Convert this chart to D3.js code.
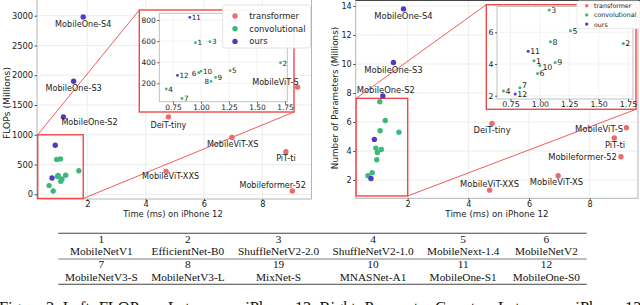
<!DOCTYPE html>
<html>
<head>
<meta charset="utf-8">
<script src="https://cdn.jsdelivr.net/npm/d3@7"></script>
<style>
  body { margin: 0; background: #fff; }
  svg { display: block; }
</style>
</head>
<body>
<svg id="fig" width="640" height="305"></svg>
<script>
// ---- data -----------------------------------------------------------
// small models, numbered in the insets and listed in the table
const smallIds     = ['1', '2', '3', '4', '5', '6', '7', '8', '9', '10', '11', '12'];
const smallType    = ['convolutional', 'convolutional', 'convolutional', 'convolutional',
                      'convolutional', 'convolutional', 'convolutional', 'convolutional',
                      'convolutional', 'convolutional', 'ours', 'ours'];
const smallLatency = [0.95, 1.71, 1.08, 0.69, 1.26, 0.98, 0.83, 1.09, 1.13, 1.00, 0.90, 0.79];
const smallFlops   = [585, 395, 595, 146, 320, 300, 56, 219, 256, 315, 825, 275];
const smallParams  = [4.2, 5.3, 7.4, 2.3, 6.1, 3.4, 2.5, 5.4, 4.1, 3.9, 4.8, 2.1];

// larger models, labelled by name
const bigNames   = ['MobileOne-S2', 'MobileOne-S3', 'MobileOne-S4', 'DeiT-tiny', 'MobileViT-XXS',
                    'MobileViT-XS', 'MobileViT-S', 'PiT-ti', 'Mobileformer-52'];
const bigType    = ['ours', 'ours', 'ours', 'transformer', 'transformer',
                    'transformer', 'transformer', 'transformer', 'transformer'];
const bigLatency = [1.18, 1.53, 1.86, 4.78, 4.70, 6.96, 9.21, 8.81, 9.03];
const bigFlops   = [1300, 1900, 2980, 1300, 385, 955, 1800, 715, 55];
const bigParams  = [7.8, 10.1, 13.8, 5.9, 1.3, 2.3, 5.6, 4.9, 3.6];

const legendLabels = ['transformer', 'convolutional', 'ours'];

// ticks
const mainXTicks  = [2, 4, 6, 8];
const flopsYTicks = [0, 500, 1000, 1500, 2000, 2500, 3000];
const paramYTicks = [2, 4, 6, 8, 10, 12, 14];
const insetXTicks = [0.75, 1.00, 1.25, 1.50, 1.75];
const flopsInsetYTicks = [200, 400, 600, 800];
const paramInsetYTicks = [2, 4, 6];

// table
const tableRow1Ids   = ['1', '2', '3', '4', '5', '6'];
const tableRow1Names = ['MobileNetV1', 'EfficientNet-B0', 'ShuffleNetV2-2.0', 'ShuffleNetV2-1.0', 'MobileNext-1.4', 'MobileNetV2'];
const tableRow2Ids   = ['7', '8', '19', '10', '11', '12'];
const tableRow2Names = ['MobileNetV3-S', 'MobileNetV3-L', 'MixNet-S', 'MNASNet-A1', 'MobileOne-S1', 'MobileOne-S0'];

const caption = 'Figure 2: Left: FLOPs vs Latency on iPhone 12. Right: Parameter Count vs Latency on iPhone 12';

// ---- style ----------------------------------------------------------
const colors = d3.scaleOrdinal()
  .domain(legendLabels)
  .range(['#f06a6a', '#3cb97a', '#4e3bc2']);
const SANS = 'DejaVu Sans, sans-serif';
const SERIF = 'Liberation Serif, Times New Roman, serif';
const RED = '#f04848';

const svg = d3.select('#fig');

// ================================
// One scatter panel with its inset
// ================================
function drawPanel(cfg) {
  const g = svg.append('g');
  const { x, y, box } = cfg;

  // grid
  g.selectAll('.gx').data(cfg.xTicks).enter().append('line')
    .attr('x1', d => x(d)).attr('x2', d => x(d))
    .attr('y1', box.y0).attr('y2', box.y1)
    .attr('stroke', '#e8e8e8').attr('stroke-width', 0.8);
  g.selectAll('.gy').data(cfg.yTicks).enter().append('line')
    .attr('x1', box.x0).attr('x2', box.x1)
    .attr('y1', d => y(d)).attr('y2', d => y(d))
    .attr('stroke', '#e8e8e8').attr('stroke-width', 0.8);

  // spines
  g.append('rect')
    .attr('x', box.x0).attr('y', box.y0)
    .attr('width', box.x1 - box.x0).attr('height', box.y1 - box.y0)
    .attr('fill', 'none').attr('stroke', '#b5b5b5').attr('stroke-width', 1);
  if (cfg.topLine) {
    g.append('line')
      .attr('x1', box.x0).attr('x2', 640).attr('y1', 0.5).attr('y2', 0.5)
      .attr('stroke', '#444').attr('stroke-width', 1.2);
  }

  // axes
  const xAxis = g.append('g')
    .attr('transform', `translate(0,${box.y1})`)
    .call(d3.axisBottom(x).tickValues(cfg.xTicks).tickFormat(d3.format('d')).tickSize(2).tickPadding(0.5));
  const yAxis = g.append('g')
    .attr('transform', `translate(${box.x0},0)`)
    .call(d3.axisLeft(y).tickValues(cfg.yTicks).tickFormat(d3.format('d')).tickSize(2.5).tickPadding(1.5));
  [xAxis, yAxis].forEach(a => {
    a.select('.domain').remove();
    a.selectAll('line').attr('stroke', '#555');
    a.selectAll('text').attr('fill', '#222').attr('font-family', SANS).attr('font-size', cfg.tickFont);
  });

  // axis titles
  g.append('text')
    .attr('x', cfg.xTitle.x).attr('y', cfg.xTitle.y)
    .attr('text-anchor', 'middle').attr('font-family', SANS)
    .attr('font-size', cfg.xTitle.size).attr('fill', '#222')
    .text('Time (ms) on iPhone 12');
  g.append('text')
    .attr('transform', `translate(${cfg.yTitle.x},${cfg.yTitle.y}) rotate(-90)`)
    .attr('text-anchor', 'middle').attr('dominant-baseline', 'central')
    .attr('font-family', SANS).attr('font-size', cfg.yTitle.size).attr('fill', '#222')
    .text(cfg.yTitle.text);

  // zoom rectangle and connectors to the inset frame
  const z = cfg.zoom;
  const zx0 = x(z.x0), zx1 = x(z.x1), zy0 = y(z.y1), zy1 = y(z.y0);
  g.append('rect')
    .attr('x', zx0).attr('y', zy0).attr('width', zx1 - zx0).attr('height', zy1 - zy0)
    .attr('fill', 'none').attr('stroke', RED).attr('stroke-width', 1.4);
  const fr = cfg.inset.frame;
  g.append('line')
    .attr('x1', zx0).attr('y1', zy0).attr('x2', fr.x0).attr('y2', fr.y0)
    .attr('stroke', RED).attr('stroke-width', 0.9);
  g.append('line')
    .attr('x1', zx1).attr('y1', zy1).attr('x2', fr.x1).attr('y2', fr.y1)
    .attr('stroke', RED).attr('stroke-width', 0.9);

  // small models in the main axes
  g.selectAll('.sp').data(smallIds).enter().append('circle')
    .attr('cx', (d, i) => x(smallLatency[i]))
    .attr('cy', (d, i) => y(cfg.smallVals[i]))
    .attr('r', cfg.pointR)
    .attr('fill', (d, i) => colors(smallType[i]));

  // large models
  g.selectAll('.bp').data(bigNames).enter().append('circle')
    .attr('cx', (d, i) => x(bigLatency[i]))
    .attr('cy', (d, i) => y(cfg.bigVals[i]))
    .attr('r', cfg.pointR)
    .attr('fill', (d, i) => colors(bigType[i]));

  // ---- inset ----
  const ins = cfg.inset;
  const ib = ins.box;
  g.append('rect')
    .attr('x', fr.x0).attr('y', fr.y0).attr('width', fr.x1 - fr.x0).attr('height', fr.y1 - fr.y0)
    .attr('fill', '#fff').attr('stroke', RED).attr('stroke-width', 1.4);
  g.selectAll('.igx').data(ins.xTicks).enter().append('line')
    .attr('x1', d => ins.x(d)).attr('x2', d => ins.x(d))
    .attr('y1', ib.y0).attr('y2', ib.y1)
    .attr('stroke', '#ececec').attr('stroke-width', 0.7);
  g.selectAll('.igy').data(ins.yTicks).enter().append('line')
    .attr('x1', ib.x0).attr('x2', ib.x1)
    .attr('y1', d => ins.y(d)).attr('y2', d => ins.y(d))
    .attr('stroke', '#ececec').attr('stroke-width', 0.7);
  g.append('rect')
    .attr('x', ib.x0).attr('y', ib.y0).attr('width', ib.x1 - ib.x0).attr('height', ib.y1 - ib.y0)
    .attr('fill', 'none').attr('stroke', '#bbb').attr('stroke-width', 0.9);
  const ixAxis = g.append('g')
    .attr('transform', `translate(0,${ib.y1})`)
    .call(d3.axisBottom(ins.x).tickValues(ins.xTicks).tickFormat(d3.format('.2f')).tickSize(2).tickPadding(0.5));
  const iyAxis = g.append('g')
    .attr('transform', `translate(${ib.x0},0)`)
    .call(d3.axisLeft(ins.y).tickValues(ins.yTicks).tickFormat(d3.format('d')).tickSize(2).tickPadding(1.5));
  [ixAxis, iyAxis].forEach(a => {
    a.select('.domain').remove();
    a.selectAll('line').attr('stroke', '#555');
    a.selectAll('text').attr('fill', '#222').attr('font-family', SANS).attr('font-size', ins.tickFont);
  });
  g.selectAll('.ip').data(smallIds).enter().append('circle')
    .attr('cx', (d, i) => ins.x(smallLatency[i]))
    .attr('cy', (d, i) => ins.y(cfg.smallVals[i]))
    .attr('r', ins.pointR)
    .attr('fill', (d, i) => colors(smallType[i]));
  g.selectAll('.il').data(smallIds).enter().append('text')
    .attr('x', (d, i) => ins.x(smallLatency[i]) + (ins.labelPos[d] ? ins.labelPos[d][0] : 2))
    .attr('y', (d, i) => ins.y(cfg.smallVals[i]) + (ins.labelPos[d] ? ins.labelPos[d][1] : 0.3))
    .attr('text-anchor', d => ins.labelPos[d] ? ins.labelPos[d][2] : 'start')
    .attr('dominant-baseline', 'central')
    .attr('font-family', SANS).attr('font-size', ins.labelFont).attr('fill', '#222')
    .text(d => d);

  // name labels sit on top of the inset
  g.selectAll('.bl').data(bigNames).enter().append('text')
    .attr('x', (d, i) => x(bigLatency[i]) + cfg.labelPos[d][0])
    .attr('y', (d, i) => y(cfg.bigVals[i]) + cfg.labelPos[d][1])
    .attr('text-anchor', d => cfg.labelPos[d][2])
    .attr('dominant-baseline', 'central')
    .attr('font-family', SANS).attr('font-size', cfg.labelFont).attr('fill', '#222')
    .text(d => d);

  // ---- legend ----
  const lg = cfg.legend;
  g.append('rect')
    .attr('x', lg.x0).attr('y', lg.y0).attr('width', lg.x1 - lg.x0).attr('height', lg.y1 - lg.y0)
    .attr('rx', 2).attr('fill', '#fff').attr('fill-opacity', 0.92)
    .attr('stroke', lg.stroke).attr('stroke-width', 0.8);
  legendLabels.forEach((name, i) => {
    const ly = lg.firstY + i * lg.step;
    g.append('circle').attr('cx', lg.markerX).attr('cy', ly).attr('r', lg.r).attr('fill', colors(name));
    g.append('text')
      .attr('x', lg.textX).attr('y', ly).attr('dominant-baseline', 'central')
      .attr('font-family', SANS).attr('font-size', lg.font).attr('fill', '#222')
      .text(name);
  });
}

// ---- left: FLOPs vs latency ----
drawPanel({
  x: d3.scaleLinear().domain([2, 8]).range([87.3, 262.3]),
  y: d3.scaleLinear().domain([0, 3000]).range([194.3, 15.7]),
  box: { x0: 37, x1: 311.5, y0: -2, y1: 199 },
  xTicks: mainXTicks, yTicks: flopsYTicks,
  smallVals: smallFlops, bigVals: bigFlops,
  tickFont: 8.3, labelFont: 8.1, pointR: 2.7,
  xTitle: { x: 173, y: 217, size: 8.4 },
  yTitle: { x: 6, y: 103, text: 'FLOPs (Millions)', size: 9.2 },
  zoom: { x0: 0.3, x1: 1.86, y0: -70, y1: 1000 },
  labelPos: {
    'MobileOne-S4': [0, 7, 'middle'], 'MobileOne-S3': [0, 7.3, 'middle'],
    'MobileOne-S2': [-2, 4.7, 'start'], 'DeiT-tiny': [0, 8, 'middle'],
    'MobileViT-XS': [0.7, 7, 'middle'], 'MobileViT-S': [1, -5.6, 'end'],
    'PiT-ti': [0, 6.7, 'middle'], 'MobileViT-XXS': [4.5, 5, 'middle'],
    'Mobileformer-52': [-19.7, -6, 'middle']
  },
  inset: {
    x: d3.scaleLinear().domain([0.75, 1.75]).range([173, 285]),
    y: d3.scaleLinear().domain([200, 800]).range([83.3, 20]),
    box: { x0: 159.3, x1: 287.3, y0: 13.3, y1: 101.7 },
    frame: { x0: 139.3, y0: 10, x1: 294, y1: 112 },
    xTicks: insetXTicks, yTicks: flopsInsetYTicks,
    tickFont: 7.5, labelFont: 7.2, pointR: 1.4,
    labelPos: { '6': [-2.5, 0.3, 'end'], '8': [-2, 0.3, 'end'] }
  },
  legend: { x0: 222.7, x1: 310.5, y0: 5, y1: 48, stroke: '#dcdcdc',
            firstY: 16, step: 12.7, markerX: 235, textX: 249.3, r: 2.7, font: 8.4 }
});

// ---- right: parameters vs latency ----
drawPanel({
  x: d3.scaleLinear().domain([2, 8]).range([407.7, 589.7]),
  y: d3.scaleLinear().domain([2, 14]).range([180, 6]),
  box: { x0: 355.7, x1: 638, y0: 0.5, y1: 198.3 },
  topLine: true,
  xTicks: mainXTicks, yTicks: paramYTicks,
  smallVals: smallParams, bigVals: bigParams,
  tickFont: 8.1, labelFont: 8.4, pointR: 2.7,
  xTitle: { x: 497, y: 217, size: 8.7 },
  yTitle: { x: 335, y: 98, text: 'Number of Parameters (Millions)', size: 8.8 },
  zoom: { x0: 0.3, x1: 2.0, y0: 0.9, y1: 7.63 },
  labelPos: {
    'MobileOne-S4': [0, 6.7, 'middle'], 'MobileOne-S3': [0, 7, 'middle'],
    'MobileOne-S2': [3, -5.7, 'middle'], 'DeiT-tiny': [0, 7, 'middle'],
    'MobileViT-S': [-3.3, 0.7, 'end'], 'PiT-ti': [0.7, 6.7, 'middle'],
    'Mobileformer-52': [-4, 0, 'end'], 'MobileViT-XS': [-1.7, 6.7, 'middle'],
    'MobileViT-XXS': [0, -6, 'middle']
  },
  inset: {
    x: d3.scaleLinear().domain([0.75, 1.75]).range([510.5, 628]),
    y: d3.scaleLinear().domain([2, 6]).range([95.7, 32.3]),
    box: { x0: 497, x1: 633, y0: 6.5, y1: 99 },
    frame: { x0: 486.3, y0: 4.7, x1: 636, y1: 109.3 },
    xTicks: insetXTicks, yTicks: paramInsetYTicks,
    tickFont: 7.8, labelFont: 7.8, pointR: 1.5,
    labelPos: { '7': [2, -2, 'start'], '10': [2.5, 1.5, 'start'] }
  },
  legend: { x0: 577, x1: 640, y0: 1, y1: 28.5, stroke: '#e4e4e4',
            firstY: 5.7, step: 9.2, markerX: 586.7, textX: 594, r: 1.7, font: 6.3 }
});

// ================================
// Legend table of numbered models
// ================================
const table = svg.append('g');
const tblX0 = 58.3, tblX1 = 586.7;
const cellFont = 11.3;

// measure each column from its widest name
const measure = table.append('text').attr('font-family', SERIF).attr('font-size', cellFont);
const colWidths = tableRow1Names.map((n, i) => {
  const w1 = measure.text(n).node().getComputedTextLength();
  const w2 = measure.text(tableRow2Names[i]).node().getComputedTextLength();
  return Math.max(w1, w2);
});
measure.remove();
const colSep = (tblX1 - tblX0 - d3.sum(colWidths)) / (2 * colWidths.length);
const colCenters = [];
colWidths.reduce((acc, w) => { colCenters.push(acc + colSep + w / 2); return acc + w + 2 * colSep; }, tblX0);

const rules = [[233.3, 1.1], [259, 0.7], [284.3, 1.1]];
rules.forEach(([ry, sw]) => {
  table.append('line')
    .attr('x1', tblX0).attr('x2', tblX1).attr('y1', ry).attr('y2', ry)
    .attr('stroke', '#444').attr('stroke-width', sw);
});

const tableRows = [
  { cells: tableRow1Ids, y: 242.8 },
  { cells: tableRow1Names, y: 255.4 },
  { cells: tableRow2Ids, y: 268 },
  { cells: tableRow2Names, y: 280.5 }
];
tableRows.forEach(row => {
  table.selectAll(null).data(row.cells).enter().append('text')
    .attr('x', (d, i) => colCenters[i])
    .attr('y', row.y)
    .attr('text-anchor', 'middle')
    .attr('font-family', SERIF).attr('font-size', cellFont).attr('fill', '#111')
    .text(d => d);
});

// caption, cut by the bottom edge
svg.append('text')
  .attr('x', -1).attr('y', 312.5)
  .attr('font-family', SERIF).attr('font-size', 16.4).attr('fill', '#111')
  .text(caption);
</script>
</body>
</html>
